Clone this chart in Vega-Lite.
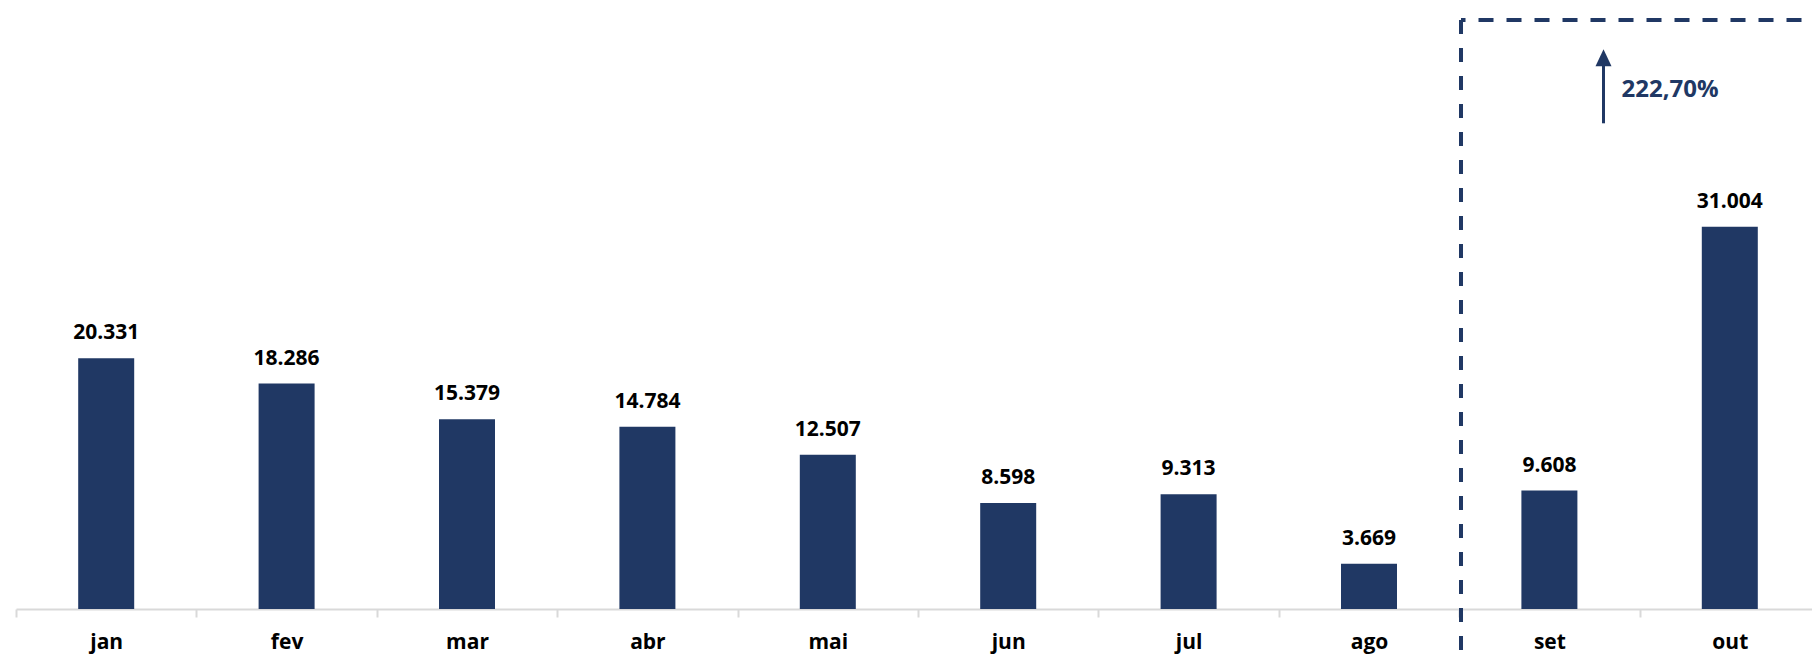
{
  "$schema": "https://vega.github.io/schema/vega-lite/v6.json",
  "width": 1796,
  "height": 609,
  "autosize": {"type": "none"},
  "padding": {"left": 16, "top": 0, "right": 0, "bottom": 46},
  "background": "white",
  "config": {
    "view": {"stroke": null},
    "locale": {"number": {"decimal": ",", "thousands": ".", "grouping": [3], "currency": ["R$", ""]}}
  },
  "layer": [
    {
      "data": {"values": [
        {"month": "jan", "value": 20331},
        {"month": "fev", "value": 18286},
        {"month": "mar", "value": 15379},
        {"month": "abr", "value": 14784},
        {"month": "mai", "value": 12507},
        {"month": "jun", "value": 8598},
        {"month": "jul", "value": 9313},
        {"month": "ago", "value": 3669},
        {"month": "set", "value": 9608},
        {"month": "out", "value": 31004}
      ]},
      "encoding": {
        "x": {
          "field": "month", "type": "ordinal", "sort": null,
          "scale": {"range": [0, 1804], "paddingInner": 0, "paddingOuter": 0},
          "axis": {
            "title": null, "labelAngle": 0, "labelFont": "Open Sans", "labelFontWeight": "bold",
            "labelFontSize": 21, "labelColor": "#000000", "labelPadding": 31, "labelBaseline": "alphabetic",
            "domainColor": "#d9d9d9", "domainWidth": 2, "tickColor": "#d9d9d9", "tickWidth": 2,
            "tickSize": 8, "tickBand": "extent", "grid": false
          }
        },
        "y": {"field": "value", "type": "quantitative", "scale": {"domain": [0, 49387], "nice": false, "zero": true}, "axis": null}
      },
      "layer": [
        {"mark": {"type": "bar", "size": 56, "color": "#203864"}},
        {"mark": {"type": "text", "font": "Open Sans", "fontWeight": "bold", "fontSize": 21, "color": "#000000", "baseline": "alphabetic", "align": "center", "dy": -19},
         "encoding": {"text": {"field": "value", "type": "quantitative", "format": ",d"}}}
      ]
    },
    {
      "encoding": {},
      "layer": [
        {
          "data": {"values": [{"pos": 8.01, "top": 47766, "bottom": -3730}]},
          "mark": {"type": "rule", "color": "#203864", "strokeWidth": 4, "strokeDash": [14, 14]},
          "encoding": {
            "x": {"field": "pos", "type": "quantitative", "scale": {"domain": [0, 10], "range": [0, 1804], "nice": false, "zero": false}, "axis": null},
            "y": {"field": "top", "type": "quantitative", "scale": {"domain": [0, 49387], "nice": false}, "axis": null},
            "y2": {"field": "bottom"}
          }
        },
        {
          "data": {"values": [{"start": 8.01, "end": 10.5, "level": 47766}]},
          "mark": {"type": "rule", "color": "#203864", "strokeWidth": 4, "strokeDash": [15, 13], "strokeDashOffset": 10.5},
          "encoding": {
            "x": {"field": "start", "type": "quantitative", "axis": null},
            "x2": {"field": "end"},
            "y": {"field": "level", "type": "quantitative", "axis": null}
          }
        },
        {
          "data": {"values": [{"pos": 8.8, "from": 39388, "to": 44035}]},
          "mark": {"type": "rule", "color": "#203864", "strokeWidth": 3},
          "encoding": {
            "x": {"field": "pos", "type": "quantitative", "axis": null},
            "y": {"field": "from", "type": "quantitative", "axis": null},
            "y2": {"field": "to"}
          }
        },
        {
          "data": {"values": [{"pos": 8.8, "tip": 44708}]},
          "mark": {"type": "point", "shape": "M0,-1L0.94,1L-0.94,1Z", "size": 289, "filled": true, "color": "#203864", "opacity": 1},
          "encoding": {
            "x": {"field": "pos", "type": "quantitative", "axis": null},
            "y": {"field": "tip", "type": "quantitative", "axis": null}
          }
        },
        {
          "data": {"values": [{"pos": 8.9, "level": 41545, "label": "222,70%"}]},
          "mark": {"type": "text", "font": "Open Sans", "fontWeight": "bold", "fontSize": 24, "color": "#203864", "align": "left", "baseline": "alphabetic"},
          "encoding": {
            "x": {"field": "pos", "type": "quantitative", "axis": null},
            "y": {"field": "level", "type": "quantitative", "axis": null},
            "text": {"field": "label"}
          }
        }
      ]
    }
  ],
  "resolve": {"scale": {"x": "independent"}}
}
